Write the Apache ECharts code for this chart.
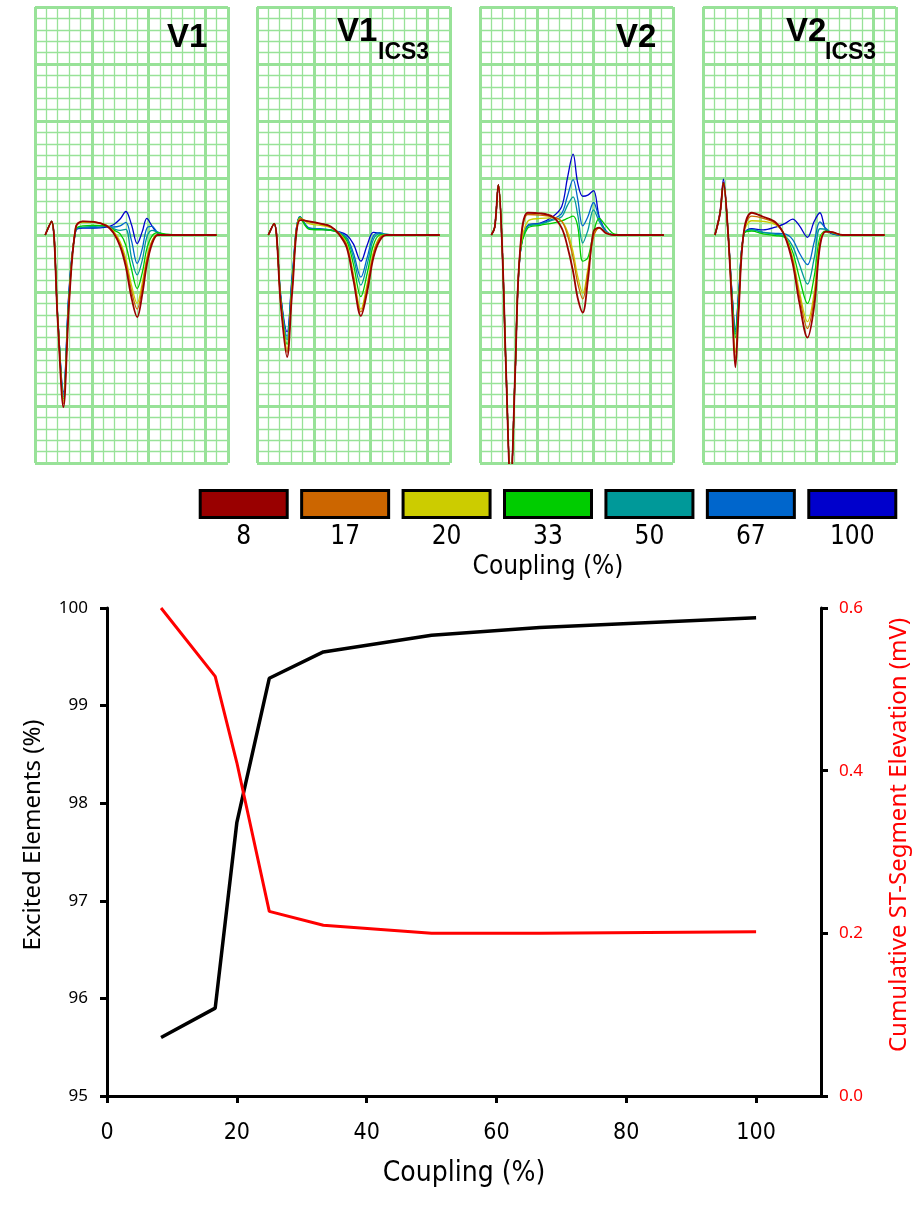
<!DOCTYPE html>
<html><head><meta charset="utf-8">
<script src="https://cdn.jsdelivr.net/npm/echarts@6/dist/echarts.min.js"></script>
<style>html,body{margin:0;padding:0;background:#fff}#c{width:919px;height:1221px}</style>
</head><body><div id="c"></div>
<script>
// ---------- legend / coupling levels ----------
const couplingLabels = ['8','17','20','33','50','67','100'];
const swatchValue = [1,1,1,1,1,1,1];
const traceColors = ['#990000','#cc6600','#cccc00','#00cc00','#009999','#0066cc','#0000cc'];

// ---------- ECG traces (x: small grid cells from panel left, y: small cells from baseline) ----------
const V1_t   = [0.9, 1.45, 2.0, 2.5, 3.0, 3.6, 4.2, 5.2, 6.3, 6.9, 7.5, 8.0, 8.5, 9.0, 9.45, 9.85, 10.3, 10.8, 11.4, 12.5, 16.0];
const V1_c8  = [0, 1.2, -7.5, -15.1, -6.0, 0.7, 1.2, 1.15, 0.8, 0.2, -1.0, -2.8, -5.5, -7.2, -5.2, -2.6, -0.8, 0, 0, 0, 0];
const V1_c17 = [0, 1.2, -7.4, -14.8, -5.8, 0.8, 1.2, 1.15, 0.85, 0.3, -0.8, -2.4, -4.9, -6.5, -4.6, -2.2, -0.6, 0, 0, 0, 0];
const V1_c20 = [0, 1.2, -7.3, -14.6, -5.6, 0.75, 1.1, 1.1, 0.85, 0.35, -0.6, -2.1, -4.4, -6.0, -4.2, -2.0, -0.5, 0.05, 0, 0, 0];
const V1_c33 = [0, 1.2, -7.2, -14.4, -5.4, 0.55, 0.8, 0.85, 0.8, 0.45, 0.1, -0.9, -3.0, -4.7, -3.3, -1.2, -0.1, 0.2, 0.1, 0, 0];
const V1_c50 = [0, 1.2, -7.1, -14.2, -5.2, 0.5, 0.7, 0.75, 0.8, 0.55, 0.4, 0.5, -2.0, -3.5, -2.2, -0.2, 0.4, 0.25, 0.05, 0, 0];
const V1_c67 = [0, 1.2, -7.2, -14.0, -5.0, 0.45, 0.65, 0.65, 0.75, 0.7, 0.8, 1.1, -0.5, -2.5, -1.2, 0.6, 0.75, 0.25, 0.05, 0, 0];
const V1_c100= [0, 1.2, -7.3, -13.8, -4.8, 0.4, 0.6, 0.6, 0.7, 0.9, 1.4, 2.06, 0.9, -0.75, 0.3, 1.45, 0.8, 0.15, 0, 0, 0];

const V1i_t   = [1.0, 1.5, 2.1, 2.65, 3.1, 3.8, 4.6, 5.6, 6.5, 7.2, 7.9, 8.5, 9.15, 9.7, 10.25, 10.8, 11.4, 12.5, 16.1];
const V1i_c8  = [0, 1.0, -6.2, -10.7, -5.0, 1.3, 1.2, 1.0, 0.75, 0.1, -1.1, -4.0, -7.1, -5.0, -2.0, -0.5, 0, 0, 0];
const V1i_c17 = [0, 1.0, -6.0, -10.3, -4.7, 1.45, 1.15, 0.95, 0.7, 0.15, -0.9, -3.7, -6.75, -4.6, -1.7, -0.3, 0, 0, 0];
const V1i_c20 = [0, 1.0, -5.9, -10.0, -4.5, 1.5, 1.0, 0.85, 0.65, 0.2, -0.8, -3.5, -6.5, -4.3, -1.5, -0.2, 0, 0, 0];
const V1i_c33 = [0, 1.0, -5.7, -9.6, -4.2, 1.55, 0.5, 0.45, 0.4, 0.15, -0.5, -2.6, -5.4, -3.4, -0.9, 0, 0.05, 0, 0];
const V1i_c50 = [0, 1.0, -5.6, -9.2, -4.0, 1.6, 0.55, 0.5, 0.45, 0.2, -0.3, -2.0, -4.4, -2.6, -0.4, 0.1, 0.05, 0, 0];
const V1i_c67 = [0, 1.0, -5.5, -8.9, -3.8, 1.6, 0.6, 0.55, 0.45, 0.25, -0.2, -1.6, -3.7, -2.0, -0.1, 0.2, 0.05, 0, 0];
const V1i_c100= [0, 1.0, -5.4, -8.5, -3.6, 1.6, 0.6, 0.5, 0.4, 0.3, 0.0, -0.8, -2.3, -0.9, 0.23, 0.15, 0, 0, 0];

const V2_t   = [1.0, 1.3, 1.62, 1.95, 2.3, 2.7, 3.1, 3.5, 4.2, 5.3, 6.4, 7.2, 7.7, 8.2, 8.6, 9.05, 9.5, 10.0, 10.5, 11.1, 11.8, 12.8, 16.2];
const V2_c8  = [0, 0.7, 4.4, -1, -12, -22, -12, -1.8, 1.95, 1.9, 1.6, 0.6, -1.0, -3.2, -5.5, -6.8, -4.0, 0.3, 0.65, 0.15, 0, 0, 0];
const V2_c17 = [0, 0.7, 4.4, -1, -12, -22, -12, -1.8, 1.8, 1.75, 1.6, 1.2, 0.0, -2.0, -4.2, -5.6, -3.3, -0.2, 0.6, 0.2, 0, 0, 0];
const V2_c20 = [0, 0.7, 4.4, -1, -12, -22, -12, -1.9, 1.2, 1.45, 1.5, 1.2, 0.3, -1.5, -3.6, -5.1, -3.0, 0.0, 0.6, 0.2, 0, 0, 0];
const V2_c33 = [0, 0.7, 4.4, -1, -12, -22, -12, -2.0, 0.6, 0.85, 1.05, 1.25, 1.45, 1.65, 0.8, -2.3, -2.0, 0.2, 1.45, 0.8, 0.1, 0, 0];
const V2_c50 = [0, 0.7, 4.4, -1, -12, -22, -12, -2.0, 0.75, 0.95, 1.3, 1.6, 2.6, 3.35, 1.8, -0.7, 0.4, 2.2, 1.2, 0.3, 0, 0, 0];
const V2_c67 = [0, 0.7, 4.4, -1, -12, -22, -12, -2.0, 0.8, 1.0, 1.4, 1.9, 3.4, 4.85, 3.2, 0.8, 1.6, 2.85, 1.5, 0.3, 0, 0, 0];
const V2_c100= [0, 0.7, 4.4, -1, -12, -22, -12, -2.1, 0.85, 1.05, 1.6, 2.5, 5.0, 7.1, 4.6, 3.4, 3.5, 3.9, 1.6, 0.35, 0, 0, 0];

const V2i_t   = [1.05, 1.5, 1.8, 2.2, 2.55, 2.85, 3.15, 3.6, 4.3, 5.3, 6.4, 7.2, 7.9, 8.5, 9.2, 9.8, 10.3, 10.8, 11.4, 12.3, 16.0];
const V2i_c8  = [0, 1.9, 4.6, 0.3, -6.2, -11.6, -6.5, 0.3, 1.95, 1.6, 1.1, -0.1, -2.5, -6.0, -9.0, -6.2, -1.0, 0.3, 0.25, 0, 0];
const V2i_c17 = [0, 1.9, 4.6, 0.3, -6.0, -10.8, -6.2, 0.3, 1.65, 1.45, 1.0, -0.05, -2.2, -5.4, -8.2, -5.5, -0.8, 0.3, 0.25, 0, 0];
const V2i_c20 = [0, 1.9, 4.6, 0.3, -5.8, -10.3, -6.0, 0.2, 1.25, 1.2, 0.9, 0, -2.0, -5.0, -7.6, -5.0, -0.6, 0.3, 0.2, 0, 0];
const V2i_c33 = [0, 1.9, 4.6, 0.3, -5.4, -9.0, -5.5, 0.1, 0.35, 0.1, -0.05, -0.2, -1.5, -3.8, -6.0, -3.6, -0.2, 0.35, 0.2, 0, 0];
const V2i_c50 = [0, 1.9, 4.6, 0.3, -5.2, -8.7, -5.3, 0.1, 0.45, 0.25, 0.05, -0.1, -1.0, -2.6, -4.3, -2.0, 0.55, 0.5, 0.15, 0, 0];
const V2i_c67 = [0, 1.9, 4.6, 0.3, -5.1, -8.5, -5.1, 0.1, 0.5, 0.2, 0.15, 0.1, -0.4, -1.6, -2.6, -0.6, 1.15, 0.6, 0.15, 0, 0];
const V2i_c100= [0, 2.0, 4.9, 0.3, -5.0, -8.3, -5.0, 0.1, 0.55, 0.45, 0.7, 1.0, 1.4, 0.8, -0.2, 1.2, 1.95, 0.5, 0.1, 0, 0];

// ---------- summary line chart ----------
const couplingX   = [8.33, 16.67, 20, 25, 33.33, 50, 66.67, 100];
const excitedPct  = [95.6, 95.9, 97.8, 99.28, 99.55, 99.72, 99.8, 99.9];
const stElevation = [0.6, 0.516, 0.41, 0.227, 0.21, 0.2, 0.2, 0.202];
const xTickValues = [0, 20, 40, 60, 80, 100];

// ---------- assemble ----------
const leads = [
  {t: V1_t,  ys: [V1_c8, V1_c17, V1_c20, V1_c33, V1_c50, V1_c67, V1_c100]},
  {t: V1i_t, ys: [V1i_c8, V1i_c17, V1i_c20, V1i_c33, V1i_c50, V1i_c67, V1i_c100]},
  {t: V2_t,  ys: [V2_c8, V2_c17, V2_c20, V2_c33, V2_c50, V2_c67, V2_c100]},
  {t: V2i_t, ys: [V2i_c8, V2i_c17, V2i_c20, V2i_c33, V2i_c50, V2i_c67, V2i_c100]}
];
const panelLeft = [35, 257, 480, 703];
const gridGreen = '#98e298';
const narrow = "'Liberation Sans Narrow','DejaVu Sans Condensed',sans-serif";
const myriad = "'Noto Sans','Open Sans',sans-serif";

const grids = [], xAxes = [], yAxes = [], series = [];
panelLeft.forEach((l, i) => {
  grids.push({left: l, top: 7, width: 193, height: 456});
  const hidden = {axisLine:{show:false}, axisTick:{show:false}, axisLabel:{show:false}};
  xAxes.push(Object.assign({gridIndex:i, type:'value', min:0, max:17, interval:1,
    splitLine:{show:true, lineStyle:{color:gridGreen, width:1.3}}}, hidden));
  xAxes.push(Object.assign({gridIndex:i, type:'value', min:0, max:17, interval:5,
    splitLine:{show:true, lineStyle:{color:gridGreen, width:3}}}, hidden));
  yAxes.push(Object.assign({gridIndex:i, type:'value', min:-20, max:20, interval:1,
    splitLine:{show:true, lineStyle:{color:gridGreen, width:1.3}}}, hidden));
  yAxes.push(Object.assign({gridIndex:i, type:'value', min:-20, max:20, interval:5,
    splitLine:{show:true, lineStyle:{color:gridGreen, width:3}}}, hidden));
  const lead = leads[i];
  for (let k = 6; k >= 0; k--) {
    series.push({
      type:'line', xAxisIndex: 2*i+1, yAxisIndex: 2*i+1,
      data: lead.t.map((x, j) => [x, lead.ys[k][j]]),
      smooth: 0.35, symbol: 'none', clip: true,
      lineStyle: {color: traceColors[k], width: k === 0 ? 1.8 : 1.3},
      z: 3 + (6 - k)
    });
  }
});

// legend swatch grid (index 4)
grids.push({left: 193, top: 489, width: 710, height: 30});
xAxes.push({gridIndex:4, type:'category', data: couplingLabels,
  axisLine:{show:false}, axisTick:{show:false},
  axisLabel:{fontSize:26, fontFamily:narrow, color:'#000', margin:5},
  name:'Coupling (%)', nameLocation:'middle', nameGap:35,
  nameTextStyle:{fontSize:26, fontFamily:narrow, color:'#000'}});
yAxes.push({gridIndex:4, type:'value', min:0, max:1, show:false});
series.push({type:'bar', xAxisIndex: 8, yAxisIndex: 8, barWidth: 90,
  data: swatchValue.map((v, i) => ({value: v, itemStyle: {color: traceColors[i]}})),
  itemStyle: {borderColor:'#000', borderWidth:3}, silent: true});

// summary chart grid (index 5)
grids.push({left: 107, top: 608, width: 719, height: 488});
xAxes.push({gridIndex:5, type:'value', min:0, max:110, interval:10,
  axisLine:{show:true, onZero:false, lineStyle:{color:'#000', width:3}},
  axisTick:{show:true, length:7, customValues: xTickValues, lineStyle:{color:'#000', width:3}},
  axisLabel:{customValues: xTickValues, fontSize:23, fontFamily:narrow, color:'#000', margin:26},
  splitLine:{show:false},
  name:'Coupling (%)', nameLocation:'middle', nameGap:64,
  nameTextStyle:{fontSize:28, fontFamily:narrow, color:'#000'}});
yAxes.push({gridIndex:5, type:'value', position:'left', min:95, max:100, interval:1,
  axisLine:{show:true, onZero:false, lineStyle:{color:'#000', width:3}},
  axisTick:{show:true, length:7, lineStyle:{color:'#000', width:3}},
  axisLabel:{fontSize:17, fontFamily:myriad, color:'#000', margin:19},
  splitLine:{show:false},
  name:'Excited Elements (%)', nameLocation:'middle', nameGap:62,
  nameTextStyle:{fontSize:24, fontFamily:myriad, color:'#000', padding:[0,0,0,34]}});
yAxes.push({gridIndex:5, type:'value', position:'right', min:0, max:0.6, interval:0.2,
  axisLine:{show:true, onZero:false, lineStyle:{color:'#000', width:3}},
  axisTick:{show:true, length:7, lineStyle:{color:'#000', width:3}},
  axisLabel:{fontSize:17, fontFamily:myriad, color:'#ff0000', margin:18, formatter: v => v.toFixed(1)},
  splitLine:{show:false},
  name:'Cumulative ST-Segment Elevation (mV)', nameLocation:'middle', nameGap:66,
  nameTextStyle:{fontSize:24, fontFamily:myriad, color:'#ff0000', padding:[0,0,0,34]}});
series.push({type:'line', xAxisIndex:9, yAxisIndex:9, data: couplingX.map((x,i)=>[x, excitedPct[i]]),
  symbol:'none', lineStyle:{color:'#000', width:3.5}, z:5});
series.push({type:'line', xAxisIndex:9, yAxisIndex:10, data: couplingX.map((x,i)=>[x, stElevation[i]]),
  symbol:'none', lineStyle:{color:'#ff0000', width:3}, z:6});

const bold = {fontFamily:"'Liberation Sans',Arial,sans-serif", fontWeight:'bold', color:'#000'};
const titles = [
  {text:'V1', left:167, top:21, textStyle:Object.assign({fontSize:33}, bold)},
  {text:'V1', left:337, top:15, textStyle:Object.assign({fontSize:33}, bold)},
  {text:'ICS3', left:378, top:41, textStyle:Object.assign({fontSize:23}, bold)},
  {text:'V2', left:616, top:21, textStyle:Object.assign({fontSize:33}, bold)},
  {text:'V2', left:786, top:15, textStyle:Object.assign({fontSize:33}, bold)},
  {text:'ICS3', left:825, top:41, textStyle:Object.assign({fontSize:23}, bold)}
].map(t => Object.assign({padding:0}, t));

const chart = echarts.init(document.getElementById('c'), null, {renderer:'canvas'});
chart.setOption({
  animation:false, backgroundColor:'#fff',
  title: titles, grid: grids, xAxis: xAxes, yAxis: yAxes, series: series
});
</script></body></html>
